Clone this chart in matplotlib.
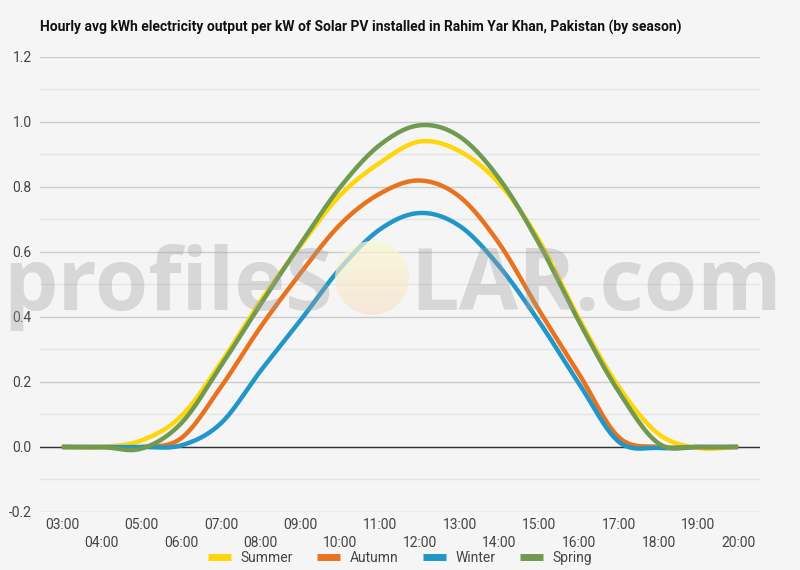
import numpy as np
import matplotlib
matplotlib.use("Agg")
import matplotlib.pyplot as plt
from matplotlib.patches import Circle

plt.rcParams["font.family"] = ["Roboto", "DejaVu Sans"]

# data (kWh per kW, hourly)
hours = np.arange(3, 21)
hour_labels = [f"{h:02d}:00" for h in hours]
seasons = ["Summer", "Autumn", "Winter", "Spring"]
summer = [0, 0, 0.02, 0.095, 0.26, 0.45, 0.62, 0.775, 0.875, 0.94,
          0.91, 0.81, 0.635, 0.395, 0.185, 0.04, -0.003, 0]
autumn = [0, 0, 0, 0.027, 0.185, 0.37, 0.535, 0.685, 0.78, 0.82,
          0.77, 0.625, 0.42, 0.225, 0.03, 0, 0, 0]
winter = [0, 0, 0, 0.005, 0.073, 0.235, 0.39, 0.55, 0.67, 0.72,
          0.68, 0.555, 0.385, 0.195, 0.016, -0.003, 0, 0]
spring = [0, 0, -0.005, 0.073, 0.25, 0.44, 0.625, 0.80, 0.93, 0.99,
          0.955, 0.825, 0.625, 0.386, 0.17, 0.011, 0, 0]
colors = ["#FFD60A", "#E8731F", "#2196C9", "#6F9A4F"]


# smooth curve through the points (Catmull-Rom), like the original chart
def smooth(x, y, n=24):
    x = np.asarray(x, float)
    y = np.asarray(y, float)
    m = np.gradient(y, x)
    xs, ys = [], []
    for i in range(len(x) - 1):
        h = x[i + 1] - x[i]
        t = np.linspace(0, 1, n, endpoint=False)
        h00 = 2 * t**3 - 3 * t**2 + 1
        h10 = t**3 - 2 * t**2 + t
        h01 = -2 * t**3 + 3 * t**2
        h11 = t**3 - t**2
        xs.append(x[i] + t * h)
        ys.append(h00 * y[i] + h10 * h * m[i] + h01 * y[i + 1] + h11 * h * m[i + 1])
    xs.append([x[-1]])
    ys.append([y[-1]])
    return np.concatenate(xs), np.concatenate(ys)


bg = "#F5F5F5"
fig = plt.figure(figsize=(8, 5.7), dpi=100, facecolor=bg)
ax = fig.add_axes([0.05, 0.1018, 0.9, 0.7982])
ax.set_facecolor(bg)

for name, vals, col in zip(seasons, [summer, autumn, winter, spring], colors):
    sx, sy = smooth(hours, vals)
    ax.plot(sx, sy, color=col, lw=3.2, label=name, solid_capstyle="butt", zorder=3)

ax.set_xlim(2.45, 20.55)
ax.set_ylim(-0.2, 1.2)
ax.set_yticks(np.arange(-0.2, 1.21, 0.2))
ax.set_yticklabels([f"{v:.1f}" for v in np.arange(-0.2, 1.21, 0.2)])
ax.set_yticks(np.arange(-0.1, 1.2, 0.2), minor=True)
ax.grid(axis="y", which="major", color="#CCCCCC", lw=1)
ax.grid(axis="y", which="minor", color="#E4E4E4", lw=1)
ax.axhline(0, color="#333333", lw=1, zorder=2)
ax.set_axisbelow(True)

ax.set_xticks(hours)
ax.set_xticklabels([lab if i % 2 == 0 else "\n" + lab for i, lab in enumerate(hour_labels)],
                   linespacing=1.45)
ax.tick_params(axis="both", which="both", length=0, labelsize=10, colors="#444444")
ax.tick_params(axis="x", pad=4)
ax.tick_params(axis="y", pad=6)
for s in ax.spines.values():
    s.set_visible(False)

fig.text(0.05, 0.951, "Hourly avg kWh electricity output per kW of Solar PV installed in Rahim Yar Khan, Pakistan (by season)",
         fontsize=10, fontweight="bold", color="#111111", va="center", ha="left")

leg = fig.legend(loc="center", bbox_to_anchor=(0.5, 0.021), ncol=4, frameon=False,
                 fontsize=10, handlelength=1.7, handletextpad=0.7, columnspacing=1.7)
for t in leg.get_texts():
    t.set_color("#444444")
for h in leg.legend_handles:
    h.set_linewidth(5)

# watermark on an overlay in pixel coordinates
wax = fig.add_axes([0, 0, 1, 1], zorder=5)
wax.set_xlim(0, 800)
wax.set_ylim(570, 0)
wax.axis("off")
wax.patch.set_alpha(0)
wm = dict(fontsize=62, fontweight="bold", color="#A0A0A0", alpha=0.35,
          va="baseline", family=["Open Sans", "DejaVu Sans"])
wax.text(3, 310, "profileS", ha="left", **wm)
wax.text(410, 310, "LAR.com", ha="left", **wm)
cx, cy, r = 372, 278, 37
grad = np.linspace(0, 1, 64)[:, None, None]
top = np.array([250, 249, 205]) / 255
bot = np.array([247, 226, 205]) / 255
img = top * (1 - grad) + bot * grad
img = np.repeat(img, 2, axis=1)
im = wax.imshow(img, extent=(cx - r, cx + r, cy + r, cy - r), alpha=0.7,
                interpolation="bilinear", aspect="auto")
im.set_clip_path(Circle((cx, cy), r, transform=wax.transData))

fig.savefig("out.png", dpi=100, facecolor=bg)
